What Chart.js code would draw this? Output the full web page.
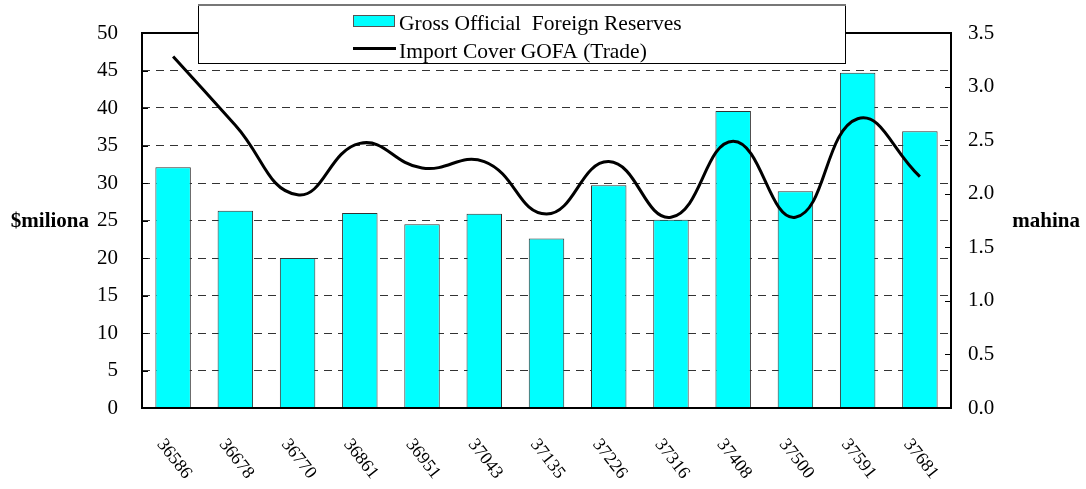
<!DOCTYPE html>
<html>
<head>
<meta charset="utf-8">
<script src="https://cdn.jsdelivr.net/npm/chart.js@4.4.0/dist/chart.umd.min.js"></script>
<style>
    html, body { margin: 0; padding: 0; background: #fff; }
    #wrap { width: 1086px; height: 489px; position: relative; }
</style>
</head>
<body>
<div id="wrap"><canvas id="chart" width="1086" height="489"></canvas></div>
<script>
// Chart data
const categories = ['36586', '36678', '36770', '36861', '36951', '37043', '37135',
                    '37226', '37316', '37408', '37500', '37591', '37681'];
const reserves = [32.1, 26.3, 20.0, 26.0, 24.5, 25.9, 22.6, 29.7, 25.1, 39.6, 28.9, 44.7, 36.9];
const importCover = [3.28, 2.64, 1.99, 2.47, 2.24, 2.30, 1.81, 2.30, 1.78, 2.49, 1.78, 2.70, 2.16];
const leftTicks = [0, 5, 10, 15, 20, 25, 30, 35, 40, 45, 50];
const rightTicks = [0, 0.5, 1, 1.5, 2, 2.5, 3, 3.5];
const legendLabels = ['Gross Official  Foreign Reserves', 'Import Cover GOFA (Trade)'];
const axisTitles = ['$miliona', 'mahina'];

const FONT = "'Liberation Serif', 'Times New Roman', serif";

// Draws frame, inward ticks, rotated x labels, axis titles and the legend box
const decorPlugin = {
    id: 'decor',
    afterDraw(chart) {
        const ctx = chart.ctx;
        const area = chart.chartArea;
        const yL = chart.scales.y;
        const yR = chart.scales.y1;
        const x = chart.scales.x;

        ctx.save();
        // plot frame
        ctx.strokeStyle = '#000';
        ctx.lineWidth = 2;
        ctx.strokeRect(area.left, area.top, area.right - area.left, area.bottom - area.top);

        // inward tick marks
        ctx.lineWidth = 1;
        leftTicks.forEach(v => {
            const py = Math.round(yL.getPixelForValue(v)) + 0.5;
            ctx.beginPath();
            ctx.moveTo(area.left, py);
            ctx.lineTo(area.left + 6, py);
            ctx.stroke();
        });
        rightTicks.forEach(v => {
            const py = Math.round(yR.getPixelForValue(v)) + 0.5;
            ctx.beginPath();
            ctx.moveTo(area.right - 6, py);
            ctx.lineTo(area.right, py);
            ctx.stroke();
        });

        // x labels rotated downward to the right
        ctx.fillStyle = '#000';
        ctx.font = '18px ' + FONT;
        ctx.textAlign = 'center';
        ctx.textBaseline = 'middle';
        categories.forEach((c, i) => {
            ctx.save();
            ctx.translate(x.getPixelForValue(i) + 1, 459);
            ctx.rotate(Math.PI * 52 / 180);
            ctx.fillText(c, 0, 0);
            ctx.restore();
        });

        // axis titles
        ctx.font = 'bold 21px ' + FONT;
        ctx.textAlign = 'right';
        ctx.fillText(axisTitles[0], 89, 222);
        ctx.fillText(axisTitles[1], 1080, 222);

        // legend
        ctx.fillStyle = '#fff';
        ctx.fillRect(198, 5, 647, 59);
        ctx.strokeStyle = '#000';
        ctx.lineWidth = 1;
        ctx.strokeRect(198.5, 5.5, 647, 58);
        ctx.strokeStyle = '#777';
        ctx.lineWidth = 2;
        ctx.beginPath();
        ctx.moveTo(198, 5);
        ctx.lineTo(846, 5);
        ctx.stroke();

        ctx.fillStyle = '#00ffff';
        ctx.fillRect(353, 15, 41, 11);
        ctx.strokeStyle = '#555';
        ctx.lineWidth = 1;
        ctx.strokeRect(353.5, 15.5, 41, 11);

        ctx.strokeStyle = '#000';
        ctx.lineWidth = 3;
        ctx.beginPath();
        ctx.moveTo(353, 48.5);
        ctx.lineTo(396, 48.5);
        ctx.stroke();

        ctx.fillStyle = '#000';
        ctx.font = '21.5px ' + FONT;
        ctx.textAlign = 'left';
        ctx.textBaseline = 'alphabetic';
        ctx.fillText(legendLabels[0], 399, 30);
        ctx.fillText(legendLabels[1], 399, 58);
        ctx.restore();
    }
};

const ctx = document.getElementById('chart').getContext('2d');
new Chart(ctx, {
    type: 'bar',
    data: {
        labels: categories,
        datasets: [
            {
                type: 'line',
                label: legendLabels[1],
                data: importCover,
                yAxisID: 'y1',
                borderColor: '#000',
                borderWidth: 3,
                pointRadius: 0,
                tension: 0.45,
                fill: false,
                order: 0
            },
            {
                label: legendLabels[0],
                data: reserves,
                yAxisID: 'y',
                backgroundColor: '#00ffff',
                borderColor: '#333',
                borderWidth: 1,
                categoryPercentage: 1,
                barPercentage: 0.57,
                order: 1
            }
        ]
    },
    options: {
        responsive: false,
        animation: false,
        layout: { padding: { top: 33, left: 0, right: 0, bottom: 0 } },
        plugins: {
            legend: { display: false },
            tooltip: { enabled: false }
        },
        scales: {
            x: {
                offset: true,
                grid: { display: false, drawTicks: false },
                border: { display: false },
                ticks: { display: false },
                afterFit(scale) { scale.height = 81; }
            },
            y: {
                position: 'left',
                min: 0,
                max: 50,
                afterBuildTicks(scale) { scale.ticks = leftTicks.map(v => ({ value: v })); },
                grid: {
                    drawTicks: false,
                    color: c => (c.tick.value === 0 || c.tick.value === 50) ? 'rgba(0,0,0,0)' : '#333',
                    lineWidth: 1
                },
                border: { display: false, dash: [8, 6] },
                ticks: {
                    padding: 24,
                    color: '#000',
                    font: { family: FONT, size: 21, lineHeight: 0.8 }
                },
                afterFit(scale) { scale.width = 142; }
            },
            y1: {
                position: 'right',
                min: 0,
                max: 3.5,
                afterBuildTicks(scale) { scale.ticks = rightTicks.map(v => ({ value: v })); },
                grid: { display: false, drawTicks: false },
                border: { display: false },
                ticks: {
                    padding: 17,
                    color: '#000',
                    font: { family: FONT, size: 21, lineHeight: 0.8 },
                    callback: v => v.toFixed(1)
                },
                afterFit(scale) { scale.width = 135; }
            }
        }
    },
    plugins: [decorPlugin]
});
</script>
</body>
</html>
